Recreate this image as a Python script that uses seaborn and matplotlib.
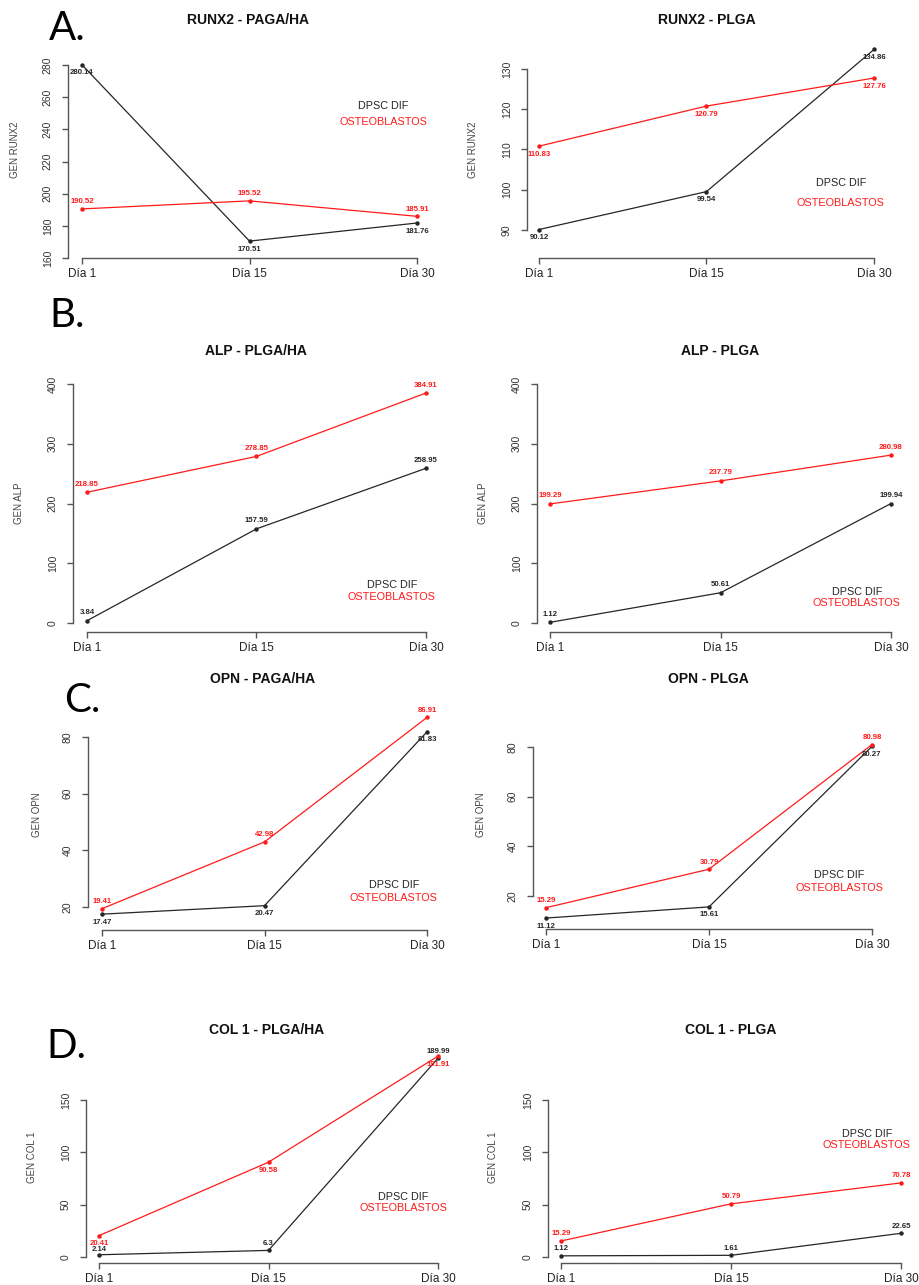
import matplotlib
matplotlib.use("Agg")
import matplotlib.pyplot as plt
import seaborn as sns

sns.set_theme(style="white")
plt.rcParams['font.family'] = ['Liberation Sans', 'DejaVu Sans']

W, H = 920, 1285

days = ["Día 1", "Día 15", "Día 30"]

runx2_pagaha_dpsc = [280.14, 170.51, 181.76]
runx2_pagaha_osteo = [190.52, 195.52, 185.91]
runx2_plga_dpsc = [90.12, 99.54, 134.86]
runx2_plga_osteo = [110.83, 120.79, 127.76]

alp_plgaha_dpsc = [3.84, 157.59, 258.95]
alp_plgaha_osteo = [218.85, 278.85, 384.91]
alp_plga_dpsc = [1.12, 50.61, 199.94]
alp_plga_osteo = [199.29, 237.79, 280.98]

opn_pagaha_dpsc = [17.47, 20.47, 81.83]
opn_pagaha_osteo = [19.41, 42.98, 86.91]
opn_plga_dpsc = [11.12, 15.61, 80.27]
opn_plga_osteo = [15.29, 30.79, 80.98]

col1_plgaha_dpsc = [2.14, 6.3, 189.99]
col1_plgaha_osteo = [20.41, 90.58, 191.91]
col1_plga_dpsc = [1.12, 1.61, 22.65]
col1_plga_osteo = [15.29, 50.79, 70.78]

titles = ["RUNX2 - PAGA/HA", "RUNX2 - PLGA", "ALP - PLGA/HA", "ALP - PLGA",
          "OPN - PAGA/HA", "OPN - PLGA", "COL 1 - PLGA/HA", "COL 1 - PLGA"]
ylabels = ["GEN RUNX2", "GEN RUNX2", "GEN ALP", "GEN ALP",
           "GEN OPN", "GEN OPN", "GEN COL 1", "GEN COL 1"]
yticks_list = [[160, 180, 200, 220, 240, 260, 280], [90, 100, 110, 120, 130],
               [0, 100, 200, 300, 400], [0, 100, 200, 300, 400],
               [20, 40, 60, 80], [20, 40, 60, 80],
               [0, 50, 100, 150], [0, 50, 100, 150]]
series = [(runx2_pagaha_dpsc, runx2_pagaha_osteo), (runx2_plga_dpsc, runx2_plga_osteo),
          (alp_plgaha_dpsc, alp_plgaha_osteo), (alp_plga_dpsc, alp_plga_osteo),
          (opn_pagaha_dpsc, opn_pagaha_osteo), (opn_plga_dpsc, opn_plga_osteo),
          (col1_plgaha_dpsc, col1_plgaha_osteo), (col1_plga_dpsc, col1_plga_osteo)]
legend_names = ["DPSC DIF", "OSTEOBLASTOS"]
panel_letters = ["A.", "B.", "C.", "D."]

# layout (pixels): yaxis_x, xaxis_y, x_day1, x_day30, y_a, py_a, y_b, py_b, top_py, right_px
layout = [
    (68, 258, 82, 417, 280, 65, 160, 258, 45, 440),
    (527, 258, 539, 874, 130, 69, 90, 230, 45, 900),
    (73, 632, 87, 426, 400, 384, 0, 623, 370, 450),
    (537, 632, 550, 891, 400, 384, 0, 623, 370, 912),
    (88, 930, 102, 427, 80, 737, 20, 907, 700, 450),
    (533, 929, 546, 872, 80, 747, 20, 896, 700, 900),
    (86, 1263, 99, 438, 150, 1100, 0, 1257, 1040, 455),
    (548, 1263, 561, 901, 150, 1100, 0, 1257, 1040, 915),
]
title_pos = [(248, 20), (707, 20), (256, 351), (720, 351),
             (263, 679), (708, 679), (267, 1030), (731, 1030)]
ylabel_pos = [(15, 150), (473, 150), (19, 503), (483, 503),
              (37, 815), (481, 815), (32, 1157), (493, 1157)]
legend_pos = [((383, 106), (383, 122)), ((841, 183), (840, 203)),
              ((392, 585), (391, 597)), ((857, 592), (856, 603)),
              ((394, 885), (393, 898)), ((839, 875), (839, 888)),
              ((403, 1197), (403, 1208)), ((867, 1134), (866, 1145))]
# label offsets in pixels (positive = above) per point: (dpsc, osteo)
label_off = [
    ((-8, -8, -8), (7, 7, 7)),
    ((-8, -8, -8), (-8, -8, -8)),
    ((8, 8, 8), (8, 8, 8)),
    ((8, 8, 8), (8, 8, 8)),
    ((-8, -8, -8), (7, 7, 7)),
    ((-8, -8, -8), (7, 7, 7)),
    ((5, 7, 7), (-8, -8, -8)),
    ((7, 7, 7), (7, 7, 7)),
]
letter_pos = [(49, 40), (49, 327), (64, 712), (46, 1058)]

BLACK = "#262626"
RED = "#ff1a1a"
AXC = "#555555"

fig = plt.figure(figsize=(W / 100, H / 100), dpi=100)


def fx(px):
    return px / W


def fy(py):
    return 1 - py / H


for i, (lay, (s_dpsc, s_osteo)) in enumerate(zip(layout, series)):
    yax, xay, x0p, x2p, ya, pya, yb, pyb, topy, rightx = lay
    ax = fig.add_axes([fx(yax), fy(xay), (rightx - yax) / W, (xay - topy) / H])
    ax.set_facecolor("none")

    def xdata(px):
        return (px - x0p) / (x2p - x0p) * 2

    def ydata(py):
        return ya + (py - pya) * (yb - ya) / (pyb - pya)

    for vals, col, offs in ((s_dpsc, BLACK, label_off[i][0]), (s_osteo, RED, label_off[i][1])):
        sns.lineplot(x=days, y=vals, ax=ax, color=col, linewidth=0.9, sort=False,
                     marker='o', markersize=3.2, markeredgewidth=0, clip_on=False)
        for j, v in enumerate(vals):
            ax.annotate(str(v), (j, v), xytext=(0, offs[j]), textcoords='offset pixels',
                        ha='center', va='center', fontsize=5.6, color=col,
                        fontweight='bold', annotation_clip=False)

    ax.set_xlim(xdata(yax), xdata(rightx))
    ax.set_ylim(ydata(xay), ydata(topy))
    yt = yticks_list[i]
    ax.set_yticks(yt)
    ax.set_yticklabels([str(t) for t in yt], rotation=90, va='center', fontsize=7.5, color="#333333")
    ax.set_xticks([0, 1, 2])
    ax.set_xticklabels(days, fontsize=8.5, color="#222222")
    ax.spines['top'].set_visible(False)
    ax.spines['right'].set_visible(False)
    ax.spines['left'].set_bounds(yt[0], yt[-1])
    ax.spines['bottom'].set_bounds(0, 2)
    for sp in ('left', 'bottom'):
        ax.spines[sp].set_color(AXC)
        ax.spines[sp].set_linewidth(1.0)
    ax.tick_params(axis='both', direction='out', length=4, width=1.0, color=AXC,
                   left=True, bottom=True)
    ax.tick_params(axis='y', pad=7)
    ax.tick_params(axis='x', pad=3)
    ax.set_xlabel("")
    ax.set_ylabel("")
    ax.grid(False)
    if ax.get_legend() is not None:
        ax.get_legend().remove()

    tx, ty = title_pos[i]
    fig.text(fx(tx), fy(ty), titles[i], ha='center', va='center', fontsize=10,
             fontweight='bold', color="#111111")
    lx, ly = ylabel_pos[i]
    fig.text(fx(lx), fy(ly), ylabels[i], ha='center', va='center', rotation=90,
             fontsize=7, color="#444444")
    (d1x, d1y), (d2x, d2y) = legend_pos[i]
    fig.text(fx(d1x), fy(d1y), legend_names[0], ha='center', va='center', fontsize=7.8, color=BLACK)
    fig.text(fx(d2x), fy(d2y), legend_names[1], ha='center', va='center', fontsize=7.8, color=RED)

for letter, (px, py) in zip(panel_letters, letter_pos):
    fig.text(fx(px), fy(py), letter, ha='left', va='baseline', fontsize=29,
             family=['Lato', 'DejaVu Sans'], color='black')

fig.savefig("out.png", dpi=100)
